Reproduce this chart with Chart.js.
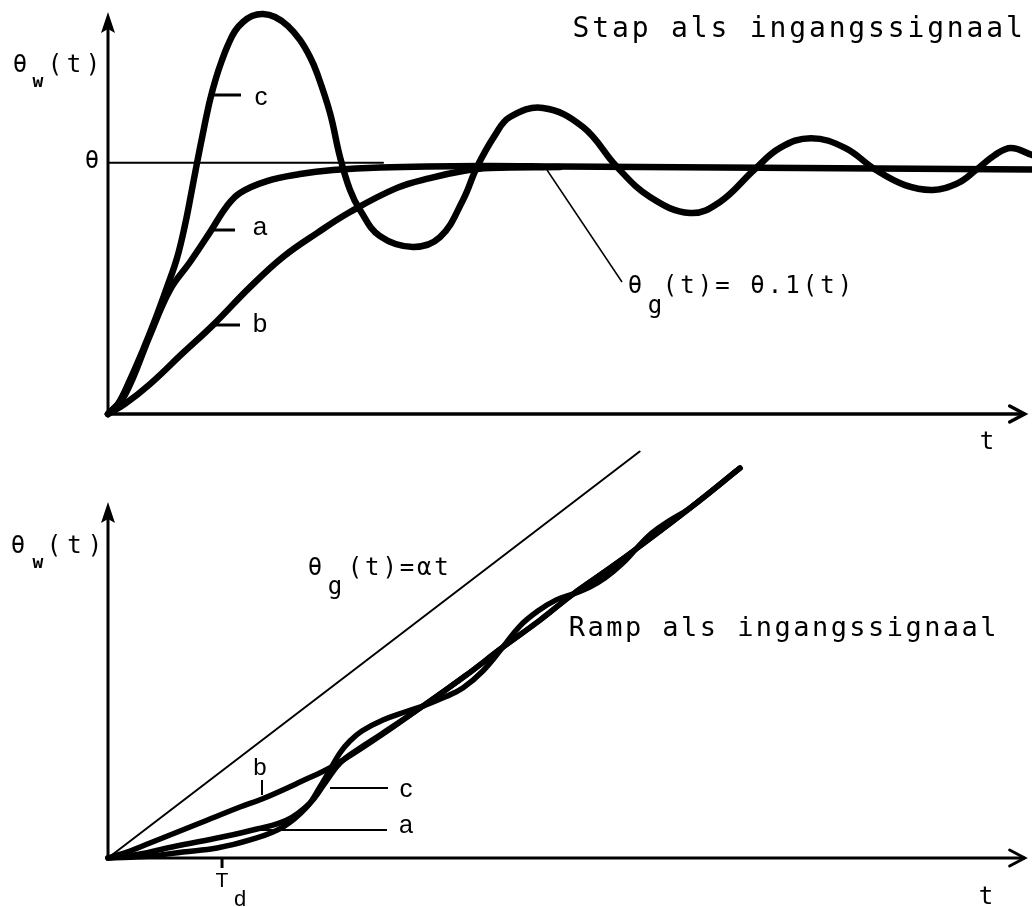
<!DOCTYPE html>
<html>
<head>
<meta charset="utf-8">
<script src="https://cdn.jsdelivr.net/npm/chart.js@4.4.1/dist/chart.umd.min.js"></script>
<style>
  html, body { margin: 0; padding: 0; background: #fff; }
  body { width: 1032px; height: 907px; position: relative; overflow: hidden; }
  canvas { position: absolute; left: 0; }
  #stap { top: 0; }
  #ramp { top: 440px; }
</style>
</head>
<body>
<canvas id="stap" width="1032" height="460"></canvas>
<canvas id="ramp" width="1032" height="467"></canvas>
<script>
// ---------- Step response (values relative to the step height θ = 1) ----------
const stepInputT = [0, 3.0];
const stepInput  = [1, 1];

const stepTimeA = [0, 0.185, 0.458, 0.676, 0.895, 1.113, 1.298, 1.440, 1.734, 2.094, 2.454, 2.967, 4.058, 4.931, 7.549, 10.08];
const stepA     = [0, 0.076, 0.314, 0.494, 0.605, 0.724, 0.828, 0.880, 0.927, 0.955, 0.971, 0.981, 0.987, 0.985, 0.979, 0.973];

const stepTimeB = [0, 0.185, 0.458, 0.818, 1.145, 1.549, 1.909, 2.280, 2.640, 3.153, 3.513, 3.873, 4.167, 4.931];
const stepB     = [0, 0.040, 0.119, 0.243, 0.354, 0.505, 0.625, 0.720, 0.804, 0.900, 0.939, 0.967, 0.979, 0.983];

const stepTimeC = [0, 0.109, 0.240, 0.382, 0.513, 0.644, 0.753, 0.840, 0.905, 0.971, 1.047, 1.113, 1.178, 1.244, 1.309,
                   1.385, 1.473, 1.571, 1.691, 1.822, 1.964, 2.094, 2.204, 2.280, 2.422, 2.531, 2.640, 2.749, 2.967, 3.327,
                   3.622, 3.873, 4.025, 4.222, 4.385, 4.745, 5.182, 5.553, 5.913, 6.349, 6.676, 7.047, 7.331, 7.669, 8.040,
                   8.378, 8.694, 8.999, 9.272, 9.469, 9.676, 9.850, 10.08];
const stepC     = [0, 0.040, 0.136, 0.255, 0.374, 0.505, 0.621, 0.752, 0.872, 0.999, 1.138, 1.250, 1.337, 1.409, 1.469,
                   1.524, 1.560, 1.584, 1.592, 1.580, 1.544, 1.489, 1.421, 1.357, 1.198, 1.023, 0.892, 0.812, 0.708, 0.665,
                   0.704, 0.852, 0.983, 1.110, 1.182, 1.218, 1.142, 0.983, 0.864, 0.800, 0.844, 0.971, 1.059, 1.098, 1.059,
                   0.971, 0.911, 0.892, 0.919, 0.971, 1.031, 1.059, 1.031];

// ---------- Ramp response (θg(t) = αt) ----------
const rampT = [0, 5.8];
const ramp  = [0, 5.8];

const rampTimeA = [0, 0.349, 0.644, 1.189, 1.625, 1.953, 2.204, 2.367, 2.531, 2.749, 2.967, 3.436, 3.894, 4.309, 4.713, 5.073, 5.476, 5.803, 6.349, 6.894];
const rampA     = [0, 0.057, 0.143, 0.285, 0.414, 0.542, 0.785, 1.070, 1.355, 1.569, 1.755, 2.168, 2.596, 3.010, 3.395, 3.766, 4.137, 4.451, 4.993, 5.563];

const rampTimeB = [0, 0.240, 0.458, 1.004, 1.440, 1.680, 2.094, 2.454, 2.967, 3.436, 3.894, 4.309, 4.713, 5.073, 5.476, 5.803, 6.349, 6.894];
const rampB     = [0, 0.100, 0.214, 0.499, 0.728, 0.842, 1.084, 1.312, 1.740, 2.168, 2.596, 3.010, 3.395, 3.766, 4.137, 4.451, 4.993, 5.563];

const rampTimeC = [0, 0.458, 0.818, 1.189, 1.549, 1.908, 2.170, 2.312, 2.421, 2.530, 2.639, 2.770, 2.999, 3.239, 3.435,
                   3.675, 3.871, 4.089, 4.308, 4.493, 4.689, 4.885, 5.071, 5.256, 5.420, 5.605, 5.769, 5.932, 6.118, 6.347, 6.892];
const rampC     = [0, 0.029, 0.086, 0.143, 0.257, 0.442, 0.728, 1.013, 1.255, 1.498, 1.669, 1.812, 1.969, 2.083, 2.168,
                   2.297, 2.425, 2.668, 3.010, 3.310, 3.524, 3.680, 3.766, 3.866, 3.994, 4.194, 4.422, 4.636, 4.807, 4.993, 5.563];

// dead time marked on the ramp time axis
const deadTime = 1.244;

// axis and tick texts
const timeLabel  = 't';
const stepLevel  = 'θ';

// ---------- drawing helpers ----------
const MONO = '"DejaVu Sans Mono", "Liberation Mono", monospace';
const SANS = '"Liberation Sans", Arial, sans-serif';
const INK = '#000';

const pts = (ts, vs) => ts.map((t, i) => ({ x: t, y: vs[i] }));

function curve(ts, vs, width, tension) {
  return {
    data: pts(ts, vs),
    showLine: true,
    borderColor: INK,
    borderWidth: width,
    pointRadius: 0,
    tension: tension,
    borderCapStyle: 'round',
    borderJoinStyle: 'round',
    clip: false
  };
}

// monospaced text drawn on a fixed character pitch (typewriter lettering)
function spaced(ctx, str, x0, y, pitch, font) {
  ctx.font = font;
  ctx.textAlign = 'center';
  ctx.textBaseline = 'alphabetic';
  [...str].forEach((ch, i) => { if (ch !== ' ') ctx.fillText(ch, x0 + i * pitch, y); });
}

// axes with an arrow on each end, drawn on the library's scales
const arrowAxes = {
  id: 'arrowAxes',
  beforeDatasetsDraw(chart, args, o) {
    const { ctx, chartArea: a, scales: { x, y } } = chart;
    const x0 = x.getPixelForValue(0), y0 = y.getPixelForValue(0);
    const xEnd = x.getPixelForValue(o.xArrowAt);
    ctx.save();
    ctx.strokeStyle = INK; ctx.fillStyle = INK;
    ctx.lineWidth = o.yWidth;
    ctx.beginPath(); ctx.moveTo(x0, y0 + 1); ctx.lineTo(x0, a.top + 12); ctx.stroke();
    ctx.beginPath();
    ctx.moveTo(x0, a.top); ctx.lineTo(x0 - 7, a.top + 21); ctx.lineTo(x0, a.top + 17); ctx.lineTo(x0 + 7, a.top + 21);
    ctx.closePath(); ctx.fill();
    ctx.lineWidth = o.xWidth;
    ctx.beginPath(); ctx.moveTo(x0 - 2, y0); ctx.lineTo(xEnd, y0); ctx.stroke();
    ctx.lineCap = 'round'; ctx.lineJoin = 'miter';
    ctx.beginPath(); ctx.moveTo(xEnd - 15, y0 - 8); ctx.lineTo(xEnd, y0); ctx.lineTo(xEnd - 15, y0 + 8); ctx.stroke();
    ctx.restore();
  }
};

// lettering, leader lines and markers
const lettering = {
  id: 'lettering',
  afterDatasetsDraw(chart, args, o) {
    const { ctx, scales: { x, y } } = chart;
    ctx.save();
    ctx.strokeStyle = INK; ctx.fillStyle = INK; ctx.lineCap = 'butt';
    (o.lines || []).forEach(l => {
      ctx.lineWidth = l.w;
      ctx.beginPath(); ctx.moveTo(l.x1, l.y1); ctx.lineTo(l.x2, l.y2); ctx.stroke();
    });
    (o.ticks || []).forEach(t => {
      const px = x.getPixelForValue(t.at), py = y.getPixelForValue(0);
      ctx.lineWidth = t.w;
      ctx.beginPath(); ctx.moveTo(px, py); ctx.lineTo(px, py + t.len); ctx.stroke();
    });
    (o.texts || []).forEach(t => spaced(ctx, t.s, t.x, t.y, t.pitch || 0, t.font));
    ctx.restore();
  }
};

function baseOptions(padding, yMax, decor, axes) {
  return {
    responsive: false,
    animation: false,
    events: [],
    layout: { padding },
    scales: {
      x: { type: 'linear', display: false, min: 0, max: 10.08 },
      y: { type: 'linear', display: false, min: 0, max: yMax }
    },
    plugins: {
      legend: { display: false },
      tooltip: { enabled: false },
      arrowAxes: axes,
      lettering: decor
    }
  };
}

// ---------- step response panel ----------
new Chart(document.getElementById('stap'), {
  type: 'scatter',
  data: {
    datasets: [
      curve(stepTimeC, stepC, 6.5, 0.4),
      curve(stepTimeA, stepA, 6.5, 0.4),
      curve(stepTimeB, stepB, 6.5, 0.4),
      curve(stepInputT, stepInput, 2, 0)
    ]
  },
  options: baseOptions({ left: 108, right: 0, top: 12, bottom: 46 }, 1.6, {
    lines: [
      { x1: 213, y1: 95,  x2: 241, y2: 95,  w: 3 },
      { x1: 213, y1: 230, x2: 235, y2: 230, w: 3 },
      { x1: 213, y1: 325, x2: 240, y2: 325, w: 3 },
      { x1: 547, y1: 170, x2: 622, y2: 282, w: 1.5 }
    ],
    texts: [
      { s: 'θ', x: 20, y: 72, font: `24px ${MONO}` },
      { s: 'w', x: 38, y: 87, font: `bold 18px ${MONO}` },
      { s: '(t)', x: 55, y: 72, pitch: 19, font: `24px ${MONO}` },
      { s: stepLevel, x: 92, y: 168, font: `24px ${MONO}` },
      { s: 'c', x: 261, y: 105, font: `26px ${SANS}` },
      { s: 'a', x: 260, y: 235, font: `26px ${SANS}` },
      { s: 'b', x: 260, y: 332, font: `26px ${SANS}` },
      { s: 'Stap als ingangssignaal', x: 581, y: 37, pitch: 19.7, font: `28px ${MONO}` },
      { s: 'θ', x: 635, y: 293, font: `24px ${MONO}` },
      { s: 'g', x: 655, y: 313, font: `24px ${MONO}` },
      { s: '(t)= θ.1(t)', x: 670, y: 293, pitch: 17.5, font: `24px ${MONO}` },
      { s: timeLabel, x: 987, y: 449, font: `24px ${MONO}` }
    ]
  }, { xArrowAt: 10.0, xWidth: 3.5, yWidth: 3 }),
  plugins: [arrowAxes, lettering]
});

// ---------- ramp response panel ----------
new Chart(document.getElementById('ramp'), {
  type: 'scatter',
  data: {
    datasets: [
      curve(rampTimeC, rampC, 5.5, 0.4),
      curve(rampTimeA, rampA, 5.5, 0.4),
      curve(rampTimeB, rampB, 5.5, 0.4),
      curve(rampT, ramp, 2, 0)
    ]
  },
  options: baseOptions({ left: 108, right: 0, top: 62, bottom: 49 }, 5.08, {
    lines: [
      { x1: 262, y1: 340, x2: 262, y2: 355, w: 2 },
      { x1: 330, y1: 348, x2: 388, y2: 348, w: 2 },
      { x1: 260, y1: 390, x2: 387, y2: 390, w: 2 }
    ],
    ticks: [ { at: deadTime, len: 10, w: 3 } ],
    texts: [
      { s: 'θ', x: 18, y: 113, font: `24px ${MONO}` },
      { s: 'w', x: 38, y: 128, font: `bold 18px ${MONO}` },
      { s: '(t)', x: 54, y: 113, pitch: 20.5, font: `24px ${MONO}` },
      { s: 'θ', x: 315, y: 135, font: `24px ${MONO}` },
      { s: 'g', x: 335, y: 154, font: `24px ${MONO}` },
      { s: '(t)=αt', x: 355, y: 135, pitch: 17.3, font: `24px ${MONO}` },
      { s: 'Ramp als ingangssignaal', x: 577, y: 196, pitch: 18.7, font: `27px ${MONO}` },
      { s: 'b', x: 260, y: 335, font: `24px ${SANS}` },
      { s: 'c', x: 406, y: 357, font: `26px ${SANS}` },
      { s: 'a', x: 406, y: 393, font: `25px ${SANS}` },
      { s: 'T', x: 222, y: 447, font: `21px ${SANS}` },
      { s: 'd', x: 240, y: 466, font: `22px ${SANS}` },
      { s: timeLabel, x: 986, y: 464, font: `24px ${MONO}` }
    ]
  }, { xArrowAt: 10.0, xWidth: 3, yWidth: 3 }),
  plugins: [arrowAxes, lettering]
});
</script>
</body>
</html>
